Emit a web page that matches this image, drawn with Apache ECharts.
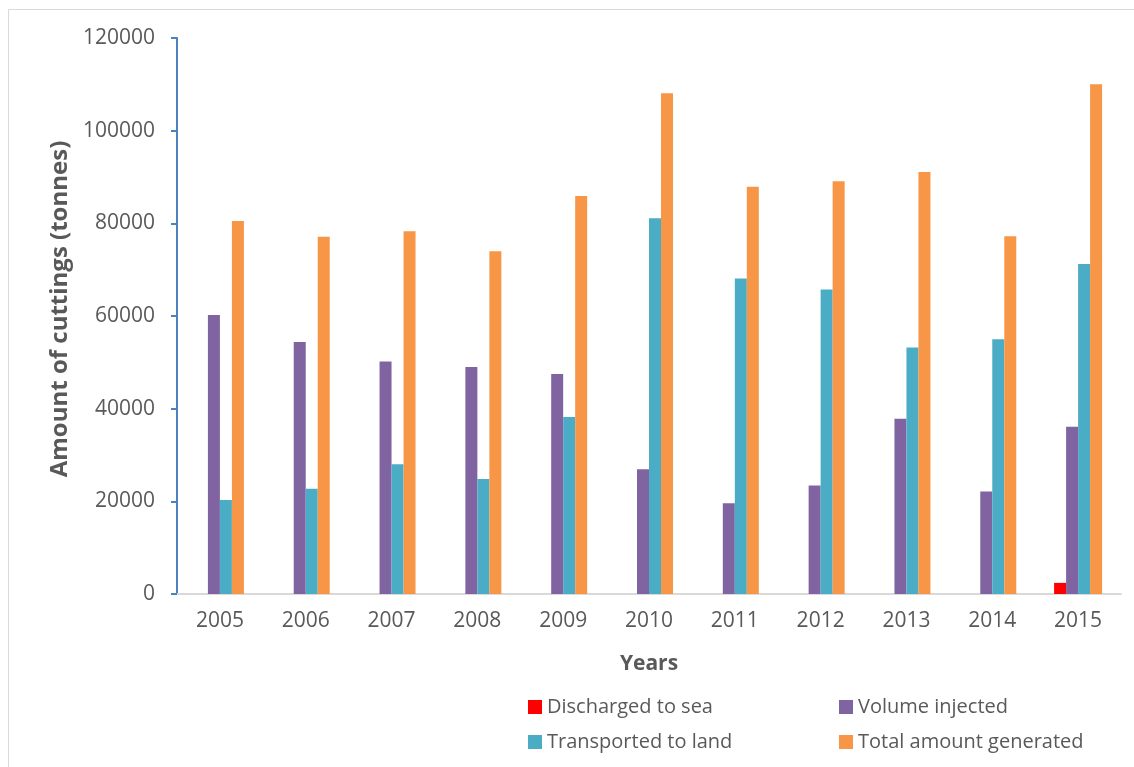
<!DOCTYPE html>
<html>
<head>
<meta charset="utf-8">
<script src="https://cdn.jsdelivr.net/npm/echarts@6/dist/echarts.min.js"></script>
<style>
  html, body { margin: 0; padding: 0; background: #fff; }
  #main { width: 1134px; height: 767px; }
</style>
</head>
<body>
<div id="main"></div>
<script>
var years = ["2005", "2006", "2007", "2008", "2009", "2010", "2011", "2012", "2013", "2014", "2015"];
var discharged = [0, 0, 0, 0, 0, 0, 0, 0, 0, 0, 2400];
var injected = [60200, 54400, 50200, 49000, 47500, 26900, 19600, 23400, 37800, 22100, 36100];
var transported = [20300, 22700, 28000, 24800, 38200, 81100, 68100, 65700, 53200, 55000, 71200];
var total = [80500, 77100, 78300, 74000, 85900, 108100, 87900, 89100, 91100, 77200, 110000];
var yTicks = [0, 20000, 40000, 60000, 80000, 100000, 120000];

var myChart = echarts.init(document.getElementById("main"));

var font = "'Open Sans', sans-serif";
var grey = "#595959";

function legendItem(name, left, top) {
  return {
    data: [name],
    left: left,
    top: top,
    icon: "rect",
    itemWidth: 14,
    itemHeight: 14,
    textStyle: { fontFamily: font, fontSize: 20, color: grey }
  };
}

var option = {
  animation: false,
  backgroundColor: "#fff",
  graphic: [{
    type: "rect",
    shape: { x: 8.5, y: 9.5, width: 1140, height: 770 },
    style: { fill: "none", stroke: "#d9d9d9", lineWidth: 1 }
  }],
  legend: [
    legendItem("Discharged to sea", 523, 692),
    legendItem("Volume injected", 834, 692),
    legendItem("Transported to land", 523, 727),
    legendItem("Total amount generated", 834, 727)
  ],
  grid: { left: 177, right: 13, top: 38, bottom: 173 },
  xAxis: {
    type: "category",
    data: years,
    name: "Years",
    nameLocation: "middle",
    nameGap: 60,
    nameTextStyle: { fontFamily: font, fontSize: 21, fontWeight: "bold", color: grey },
    axisLine: { lineStyle: { color: "#d9d9d9", width: 2 } },
    axisTick: { show: false },
    axisLabel: { fontFamily: font, fontSize: 21, color: grey, margin: 17 }
  },
  yAxis: {
    type: "value",
    min: 0,
    max: 120000,
    interval: 20000,
    name: "Amount of cuttings (tonnes)",
    nameLocation: "middle",
    nameGap: 104,
    nameTextStyle: { fontFamily: font, fontSize: 24, fontWeight: "bold", color: grey, padding: [0, 0, 0, 14] },
    axisLine: { show: true, lineStyle: { color: "#4f81bd", width: 2 } },
    axisTick: { show: true, length: 6, lineStyle: { color: "#4f81bd", width: 2 } },
    splitLine: { show: false },
    axisLabel: {
      fontFamily: font, fontSize: 21, color: grey, margin: 22,
      formatter: function (v) { return yTicks.indexOf(v) >= 0 ? String(v) : ""; }
    }
  },
  series: [
    { name: "Discharged to sea", type: "bar", data: discharged, barWidth: 12, barGap: "0%", itemStyle: { color: "#ff0000" } },
    { name: "Volume injected", type: "bar", data: injected, barWidth: 12, barGap: "0%", itemStyle: { color: "#8064a2" } },
    { name: "Transported to land", type: "bar", data: transported, barWidth: 12, barGap: "0%", itemStyle: { color: "#4bacc6" } },
    { name: "Total amount generated", type: "bar", data: total, barWidth: 12, barGap: "0%", itemStyle: { color: "#f79646" } }
  ]
};

myChart.setOption(option);
</script>
</body>
</html>
